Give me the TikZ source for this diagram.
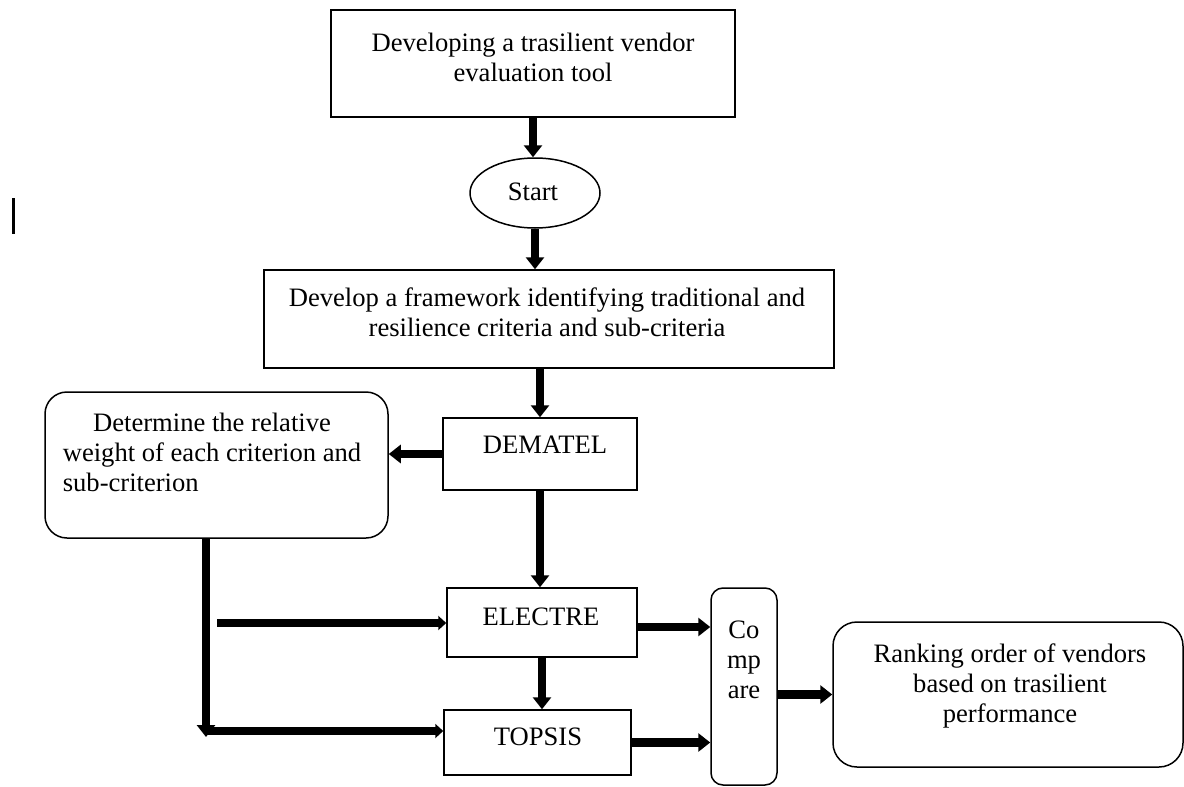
\documentclass[tikz,border=0pt]{standalone}
\usepackage{fontspec}
\setmainfont{Liberation Serif}
\usetikzlibrary{arrows.meta,shapes.geometric,calc}
\begin{document}
\begin{tikzpicture}[x=0.5pt,y=-0.5pt,
  font=\fontsize{13.3}{15}\selectfont,
  box/.style={draw,line width=0.75pt,inner sep=0pt},
  rbox/.style={box,rounded corners=9pt},
  txt/.style={inner sep=0pt,align=center},
  arr/.style={line width=4.3pt,-{Triangle[width=9pt,length=6pt]}},
  arrs/.style={line width=3.8pt,-{Triangle[width=7pt,length=4pt]}}]
\useasboundingbox (0,0) rectangle (1184,787);

% boxes
\node[box,minimum width=202pt,minimum height=53.5pt] (top) at (533,63.5) {};
\node[box,ellipse,minimum width=65pt,minimum height=35pt] (start) at (535,193) {};
\node[box,minimum width=285pt,minimum height=49pt] (frame) at (549,319) {};
\node[box,minimum width=97pt,minimum height=36pt] (dem) at (540,454) {};
\node[rbox,rounded corners=11pt,minimum width=171.5pt,minimum height=73pt] (weight) at (216.5,465) {};
\node[box,minimum width=95pt,minimum height=34.5pt] (el) at (542,622.5) {};
\node[box,minimum width=93.5pt,minimum height=32.5pt] (tp) at (537.5,742.5) {};
\node[rbox,rounded corners=6pt,minimum width=33pt,minimum height=98.5pt] (cmp) at (744,686.5) {};
\node[rbox,rounded corners=12pt,minimum width=175pt,minimum height=72.5pt] (rank) at (1008,694.5) {};

% labels
\node[txt] (ttop) at (533,57) {Developing a trasilient vendor\\evaluation tool};
\node[txt] (tstart) at (533,192) {Start};
\node[txt] (tframe) at (547,312.5) {Develop a framework identifying traditional and\\resilience criteria and sub-criteria};
\node[txt] (tdem) at (545,445) {DEMATEL};
\node[txt] (tweight) at (212,455) {\begin{tabular}{@{}l@{}}\multicolumn{1}{@{}c@{}}{Determine the relative}\\weight of each criterion and\\sub-criterion\end{tabular}};
\node[txt] (tel) at (541,617) {ELECTRE};
\node[txt] (ttp) at (538,737) {TOPSIS};
\node[txt] (tcmp) at (744,660) {Co\\mp\\are};
\node[txt] (trank) at (1010,686) {Ranking order of vendors\\based on trasilient\\performance};

% flow
\draw[arr] (top.south) -- (top.south |- start.north);
\draw[arr] (start.south) -- (start.south |- frame.north);
\draw[arr] (dem.north |- frame.south) -- (dem.north);
\draw[arr] (dem.west) -- (dem.west -| weight.east);
\draw[arr] (dem.south) -- (dem.south |- el.north);
\draw[arr] (el.south) -- (el.south |- tp.north);

\coordinate (drop) at (206,737);
\coordinate (turn) at (206,731);
\coordinate (feed) at (217,623);
\draw[arr] (weight.south -| drop) -- (drop);
\draw[arrs] (turn) -- (turn -| tp.west);
\draw[arrs] (feed) -- (feed -| el.west);

\draw[arr] ($(el.east)+(0,4.5)$) -- ($(el.east -| cmp.west)+(0,4.5)$);
\draw[arr] (tp.east) -- (tp.east -| cmp.west);
\draw[arr] (cmp.east |- rank.west) -- (rank.west);

% short bar at the left margin
\draw[line width=1.5pt] (13,198) -- (13,234);
\end{tikzpicture}
\end{document}
